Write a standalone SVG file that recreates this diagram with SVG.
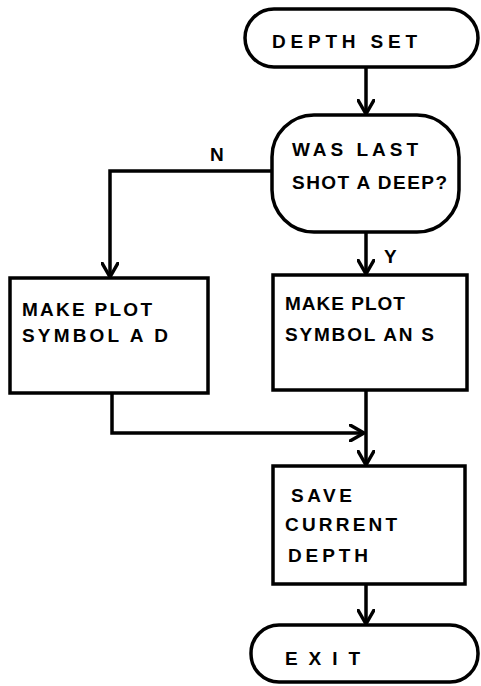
<svg xmlns="http://www.w3.org/2000/svg" width="481" height="686" viewBox="0 0 481 686">
<style>
.shape{fill:#fff;stroke:#000;stroke-width:3.5}
.conn{fill:none;stroke:#000;stroke-width:3.5;marker-end:url(#arr)}
text{font-family:"Liberation Sans",Arial,sans-serif;font-size:19px;font-weight:bold;fill:#000}
</style>
<defs>
<marker id="arr" viewBox="0 0 16 18" refX="15" refY="9" markerWidth="16" markerHeight="18" markerUnits="userSpaceOnUse" orient="auto">
<path d="M1,1 L15,9 L1,17" fill="none" stroke="#000" stroke-width="3.5" stroke-linecap="round" stroke-linejoin="round"/>
</marker>
</defs>
<rect width="481" height="686" fill="#fff"/>
<g id="connectors">
<path class="conn" d="M366,68 L366,114"/>
<path class="conn" d="M272,171 L110,171 L110,277"/>
<path class="conn" d="M366,232 L366,274"/>
<path class="conn" d="M366,390 L366,465"/>
<path class="conn" d="M112,393 L112,433 L364,433"/>
<path class="conn" d="M366,584 L366,624"/>
<text x="210" y="161" font-size="21">N</text>
<text x="384" y="263" font-size="21">Y</text>
</g>
<g id="start">
<rect class="shape" x="245" y="9" width="233" height="58" rx="29"/>
<text x="272" y="48" font-size="21" textLength="145" lengthAdjust="spacing">DEPTH SET</text>
</g>
<g id="decision">
<rect class="shape" x="272" y="115" width="187" height="117" rx="42"/>
<text x="292" y="156" font-size="20" textLength="126" lengthAdjust="spacing">WAS LAST</text>
<text x="292" y="189" font-size="20" textLength="155" lengthAdjust="spacing">SHOT A DEEP?</text>
</g>
<g id="makeD">
<rect class="shape" x="10" y="278" width="198" height="115"/>
<text x="22" y="316" textLength="130" lengthAdjust="spacing">MAKE PLOT</text>
<text x="22" y="342" textLength="146" lengthAdjust="spacing">SYMBOL A D</text>
</g>
<g id="makeS">
<rect class="shape" x="273" y="275" width="194" height="115"/>
<text x="285" y="310" font-size="16" letter-spacing="1">MAKE PLOT</text>
<text x="285" y="341" textLength="149" lengthAdjust="spacing">SYMBOL AN S</text>
</g>
<g id="save">
<rect class="shape" x="273" y="466" width="192" height="118"/>
<text x="291" y="502" textLength="61" lengthAdjust="spacing">SAVE</text>
<text x="285" y="531" textLength="112" lengthAdjust="spacing">CURRENT</text>
<text x="288" y="562" textLength="80" lengthAdjust="spacing">DEPTH</text>
</g>
<g id="exit">
<rect class="shape" x="251" y="625" width="227" height="57" rx="28"/>
<text x="285" y="665" font-size="21" textLength="75" lengthAdjust="spacing">EXIT</text>
</g>
</svg>
